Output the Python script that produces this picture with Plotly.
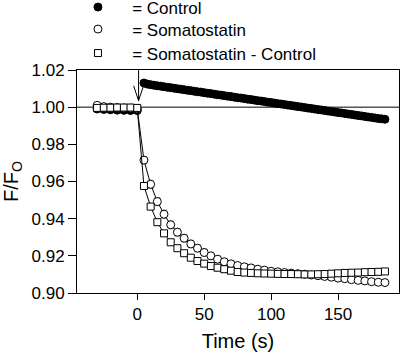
import plotly.graph_objects as go

# ---- data ----
ctrl_pre_t = [-30, -25, -20, -15, -10, -5, 0]
ctrl_pre_y = [0.9990, 0.9988, 0.9986, 0.9984, 0.9983, 0.9982, 0.9982]

ctrl_t = [5 + 2.5 * i for i in range(73)]
ctrl_y = [1.0130, 1.0124, 1.0121, 1.0118, 1.0115, 1.0113, 1.0110, 1.0107, 1.0105, 1.0102,
          1.0099, 1.0097, 1.0094, 1.0091, 1.0089, 1.0086, 1.0083, 1.0081, 1.0078, 1.0075,
          1.0073, 1.0070, 1.0067, 1.0065, 1.0062, 1.0059, 1.0057, 1.0054, 1.0051, 1.0049,
          1.0046, 1.0043, 1.0041, 1.0038, 1.0035, 1.0033, 1.0030, 1.0027, 1.0025, 1.0022,
          1.0019, 1.0017, 1.0014, 1.0011, 1.0009, 1.0006, 1.0003, 1.0001, 0.9998, 0.9995,
          0.9993, 0.9990, 0.9987, 0.9985, 0.9982, 0.9979, 0.9977, 0.9974, 0.9971, 0.9969,
          0.9966, 0.9963, 0.9961, 0.9958, 0.9955, 0.9953, 0.9950, 0.9947, 0.9945, 0.9942,
          0.9939, 0.9937, 0.9935]

som_t = [-30 + 5 * i for i in range(44)]
som_y = [1.0010, 1.0003, 1.0000, 0.9998, 0.9996, 0.9995, 0.9990,
         0.9715, 0.9585, 0.9492, 0.9424, 0.9367, 0.9327, 0.9295, 0.9264, 0.9241,
         0.9218, 0.9200, 0.9182, 0.9168, 0.9157, 0.9148, 0.9141, 0.9135, 0.9128,
         0.9123, 0.9117, 0.9114, 0.9110, 0.9107, 0.9104, 0.9101, 0.9097, 0.9093,
         0.9089, 0.9085, 0.9080, 0.9077, 0.9072, 0.9068, 0.9065, 0.9061, 0.9058, 0.9056]
som_err = [0.0003, 0.0003, 0.0003, 0.0003, 0.0003, 0.0003, 0.0003,
           0.0020, 0.0022, 0.0022, 0.0022, 0.0021, 0.0021, 0.0020, 0.0020, 0.0019,
           0.0019, 0.0018, 0.0018, 0.0017, 0.0017, 0.0016, 0.0016, 0.0015, 0.0015,
           0.0014, 0.0014, 0.0013, 0.0013, 0.0012, 0.0012, 0.0012, 0.0011, 0.0011,
           0.0011, 0.0011, 0.0010, 0.0010, 0.0010, 0.0010, 0.0010, 0.0010, 0.0010, 0.0010]

diff_t = [-30 + 5 * i for i in range(44)]
diff_y = [0.9996, 0.9997, 0.9997, 0.9998, 0.9998, 0.9998, 0.9996,
          0.9576, 0.9465, 0.9381, 0.9321, 0.9273, 0.9241, 0.9214, 0.9190, 0.9172,
          0.9158, 0.9145, 0.9136, 0.9128, 0.9120, 0.9113, 0.9110, 0.9108, 0.9106,
          0.9105, 0.9104, 0.9103, 0.9102, 0.9102, 0.9101, 0.9100, 0.9100, 0.9101,
          0.9102, 0.9104, 0.9106, 0.9108, 0.9109, 0.9110, 0.9112, 0.9113, 0.9114, 0.9116]

series_names = ["   = Control", "   = Somatostatin", "   = Somatostatin - Control"]

x_ticks = [0, 50, 100, 150]
y_ticks = [0.90, 0.92, 0.94, 0.96, 0.98, 1.00, 1.02]

FONT = "Arial, Liberation Sans, sans-serif"

ctrl_marker = dict(symbol="circle", size=8, color="black", line=dict(color="black", width=1))
som_marker = dict(symbol="circle", size=8, color="white", line=dict(color="black", width=1))
diff_marker = dict(symbol="square", size=7, color="white", line=dict(color="black", width=1))

fig = go.Figure()

fig.add_trace(go.Scatter(
    x=ctrl_pre_t + [None] + ctrl_t, y=ctrl_pre_y + [None] + ctrl_y,
    mode="lines+markers", showlegend=False,
    line=dict(color="black", width=1), marker=ctrl_marker,
))
fig.add_trace(go.Scatter(
    x=som_t, y=som_y, mode="lines+markers", showlegend=False,
    line=dict(color="black", width=1),
    error_y=dict(type="data", array=som_err, color="#999999", thickness=1, width=3),
    marker=som_marker,
))
fig.add_trace(go.Scatter(
    x=diff_t, y=diff_y, mode="lines+markers", showlegend=False,
    line=dict(color="black", width=1), marker=diff_marker,
))

# legend entries (marker only, as in the reference), one legend per row
legend_ids = ["legend", "legend2", "legend3"]
legend_ys = [1.361, 1.2623, 1.1547]
for nm, mk, lg in zip(series_names, [ctrl_marker, som_marker, diff_marker], legend_ids):
    fig.add_trace(go.Scatter(x=[None], y=[None], mode="markers", name=nm,
                             marker=mk, legend=lg))

fig.add_shape(type="line", xref="paper", yref="y", x0=0, x1=1, y0=1.0, y1=1.0,
              line=dict(color="black", width=1), layer="below")
fig.add_shape(type="path", xref="x", yref="y",
              path="M 1 1.02 L 1 1.0035 M -2.7 1.0115 L 1 1.0035 L 4.7 1.0115",
              line=dict(color="black", width=1))

legend_common = dict(x=0.003, xanchor="left", yanchor="top",
                     bgcolor="rgba(0,0,0,0)", font=dict(size=17), itemsizing="trace")

fig.update_layout(
    width=400, height=354,
    margin=dict(l=77, r=1, t=70, b=61, autoexpand=False),
    paper_bgcolor="white", plot_bgcolor="white",
    font=dict(family=FONT, size=17, color="black"),
    showlegend=True,
    legend=dict(y=legend_ys[0], **legend_common),
    legend2=dict(y=legend_ys[1], **legend_common),
    legend3=dict(y=legend_ys[2], **legend_common),
    xaxis=dict(range=[-45, 195.5], tickvals=x_ticks, ticks="outside", ticklen=6,
               tickcolor="black", showline=True, linecolor="black", linewidth=1,
               mirror=True, showgrid=False, zeroline=False, automargin=False,
               title=dict(text="Time (s)", standoff=10)),
    yaxis=dict(range=[0.90, 1.02], tickvals=y_ticks, tickformat=".2f", ticks="outside",
               ticklen=8, tickcolor="black", showline=True, linecolor="black", linewidth=1,
               mirror=True, showgrid=False, zeroline=False, automargin=False,
               title=dict(text="F/F<sub>O</sub>", standoff=8)),
)

fig.write_html("out.html", config={"displayModeBar": False},
               post_script="document.body.style.margin='0px';")
